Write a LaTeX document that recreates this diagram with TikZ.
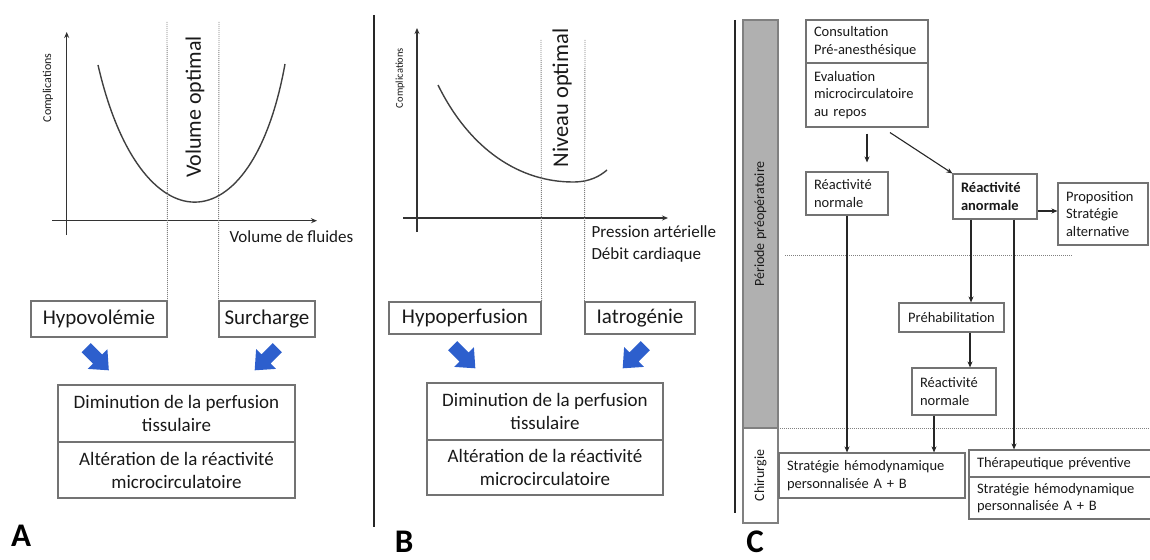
\documentclass[tikz,border=0pt]{standalone}
\usepackage{fontspec}
\setmainfont{Carlito}
\usetikzlibrary{arrows.meta,calc}
\definecolor{boxgray}{RGB}{115,115,115}
\definecolor{bandgray}{RGB}{176,176,176}
\definecolor{arrblue}{RGB}{45,95,205}
\definecolor{txt}{RGB}{25,25,25}
\begin{document}
\begin{tikzpicture}[x=1pt,y=-1pt,
  box/.style={draw=boxgray, line width=1.1pt, rectangle, inner sep=0pt, text=txt, align=center},
  abox/.style 2 args={box, minimum width=#1, minimum height=#2, font=\fontsize{21}{25}\selectfont},
  dbox/.style 2 args={box, minimum width=#1, minimum height=#2, font=\fontsize{19}{23}\selectfont},
  cbox/.style 2 args={box, align=left, text width=#1, inner xsep=8pt, inner ysep=2pt, minimum height=#2, font=\fontsize{14.5}{17.5}\selectfont},
  axis/.style={line width=1.4pt, black!80, -{Stealth[length=6pt,width=5pt]}},
  dots/.style={draw=gray, line width=0.9pt, dash pattern=on 1pt off 1pt},
  carr/.style={line width=1.1pt, black!85, -{Stealth[length=6pt,width=5pt]}},
  sep/.style={line width=2.5pt, black!85},
  curve/.style={line width=1.4pt, black!75},
  lbl/.style={font=\fontsize{33}{33}\selectfont\bfseries, text=black, inner sep=0pt},
  vtext/.style={rotate=90, text=txt}]
\useasboundingbox (0,0) rectangle (1150,559);
\clip (0,0) rectangle (1150,559);

% ---------------- Panel A ----------------
\coordinate (ya0) at (66.7,235);
\coordinate (ya1) at (66.7,32);
\coordinate (xa0) at (52,220.7);
\coordinate (xa1) at (317,220.7);
\draw[axis] (ya0) -- (ya1);
\draw[axis] (xa0) -- (xa1);
\draw[curve] (98,65) .. controls (140,248) and (252,248) .. (285,64);
\node[vtext, font=\fontsize{12}{14}\selectfont] (compA) at (48,88) {Complications};
\node[vtext, font=\fontsize{22}{26}\selectfont] (voA) at (195,107) {Volume optimal};
\node[anchor=west, text=txt, font=\fontsize{17}{20}\selectfont] (vfA) at (226,237) {Volume de fluides};

\node[abox={136}{36}] (hypo) at (99,319) {Hypovolémie};
\node[abox={96}{36}] (surch) at (267,319) {Surcharge};
\coordinate (dA1) at (167,22);
\coordinate (dA2) at (219,22);
\draw[dots] (dA1) -- (hypo.north east);
\draw[dots] (dA2) -- (surch.north west);
\node[dbox={237}{57}] (dimA) at (176.5,413.5) {Diminution de la perfusion\\tissulaire};
\node[dbox={237}{56}] (altA) at (176.5,470) {Altération de la réactivité\\microcirculatoire};
\node[lbl] (labA) at (21,536) {A};

% separator
\coordinate (s1a) at (374,15);
\coordinate (s1b) at (374,527);
\draw[sep] (s1a) -- (s1b);

% ---------------- Panel B ----------------
\coordinate (yb0) at (417,232);
\coordinate (yb1) at (417,28);
\coordinate (xb0) at (403,218);
\coordinate (xb1) at (668,218);
\draw[axis] (yb0) -- (yb1);
\draw[axis] (xb0) -- (xb1);
\draw[curve] (438,85) .. controls (470,150) and (520,182) .. (573,182) .. controls (590,182) and (600,176) .. (607,170);
\node[vtext, font=\fontsize{10.5}{12}\selectfont] (compB) at (400,78) {Complications};
\node[vtext, font=\fontsize{22.5}{26}\selectfont] (noB) at (562,98) {Niveau optimal};
\node[anchor=west, align=left, text=txt, font=\fontsize{17}{22}\selectfont] (paB) at (588,244) {Pression artérielle\\Débit cardiaque};

\node[abox={152}{32}] (hypop) at (465,318) {Hypoperfusion};
\node[abox={110}{32}] (iatro) at (640,318) {Iatrogénie};
\coordinate (dB1) at (541,40);
\coordinate (dB2) at (585,40);
\draw[dots] (dB1) -- (hypop.north east);
\draw[dots] (dB2) -- (iatro.north west);
\node[dbox={236}{57}] (dimB) at (545,411.5) {Diminution de la perfusion\\tissulaire};
\node[dbox={236}{55}] (altB) at (545,467.5) {Altération de la réactivité\\microcirculatoire};
\node[lbl] (labB) at (404,542) {B};

% blue block arrows
\foreach \cx/\cy/\ang in {97.5/359/-45, 266/359/-135, 464/357/-45, 634/357/-135}
  \fill[arrblue, shift={(\cx,\cy)}, rotate=\ang]
    (-16,-6.5) -- (0,-6.5) -- (0,-14) -- (16,0) -- (0,14) -- (0,6.5) -- (-16,6.5) -- cycle;

% separator
\coordinate (s2a) at (735,20);
\coordinate (s2b) at (735,513);
\draw[sep] (s2a) -- (s2b);

% ---------------- Panel C ----------------
\node[draw=gray, fill=bandgray, line width=1.2pt, minimum width=35, minimum height=408, inner sep=0pt] (band) at (760.5,224) {};
\node[vtext, font=\fontsize{14}{16}\selectfont] (bandtxt) at (band) {Période préopératoire};
\node[draw=gray, fill=white, line width=1.2pt, minimum width=35, minimum height=95, inner sep=0pt] (chir) at (760.5,475.5) {};
\node[vtext, font=\fontsize{14}{16}\selectfont] (chirtxt) at (chir) {Chirurgie};

\coordinate (h1a) at (785,255);
\coordinate (h1b) at (1073,255);
\draw[dots] (h1a) -- (h1b);
\coordinate (h2a) at (778,428);
\coordinate (h2b) at (1150,428);
\draw[dots] (h2a) -- (h2b);

\node[cbox={106pt}{43}] (consult) at (867,41.5) {Consultation\\Pré-anesthésique};
\node[cbox={106pt}{64}] (evalu) at (867,95) {Evaluation\\microcirculatoire\\au repos};
\node[cbox={66pt}{43}] (rn1) at (847,193.5) {Réactivité\\normale};
\node[cbox={68pt}{45}, font=\fontsize{14.5}{17.5}\selectfont\bfseries] (ra) at (995,196.5) {Réactivité\\anormale};
\node[cbox={74pt}{62}] (prop) at (1103,214) {Proposition\\Stratégie\\alternative};
\node[box, minimum width=105, minimum height=29, font=\fontsize{14.5}{17.5}\selectfont] (preh) at (951.5,317.5) {Préhabilitation};
\node[cbox={68pt}{47}] (rn2) at (954,391.5) {Réactivité\\normale};
\node[cbox={170pt}{45}] (strat1) at (872,475.5) {Stratégie hémodynamique\\personnalisée A + B};
\node[cbox={170pt}{27}] (thera) at (1062,463.5) {Thérapeutique préventive};
\node[cbox={170pt}{42}] (strat2) at (1062,498) {Stratégie hémodynamique\\personnalisée A + B};

\draw[carr] ($(evalu.south)+(0,6)$) -- ($(rn1.north -| evalu.south)+(0,-9)$);
\draw[carr] ($(evalu.south)+(23,5)$) -- (ra.north west);
\draw[carr] ($(ra.east)+(0,14.5)$) -- ($(prop.west)+(0,-3)$);
\draw[carr] (rn1.south) -- (rn1.south |- strat1.north);
\draw[carr] ($(ra.south)+(-24,0)$) -- ($(preh.north -| ra.south)+(-24,0)$);
\draw[carr] ($(ra.south)+(19,0)$) -- ($(thera.north -| ra.south)+(19,0)$);
\draw[carr] ($(preh.south)+(18.5,0)$) -- ($(rn2.north -| preh.south)+(18.5,0)$);
\draw[carr] ($(rn2.south)+(-20,0)$) -- ($(strat1.north -| rn2.south)+(-20,0)$);

\node[lbl] (labC) at (755,542) {C};
\end{tikzpicture}
\end{document}
